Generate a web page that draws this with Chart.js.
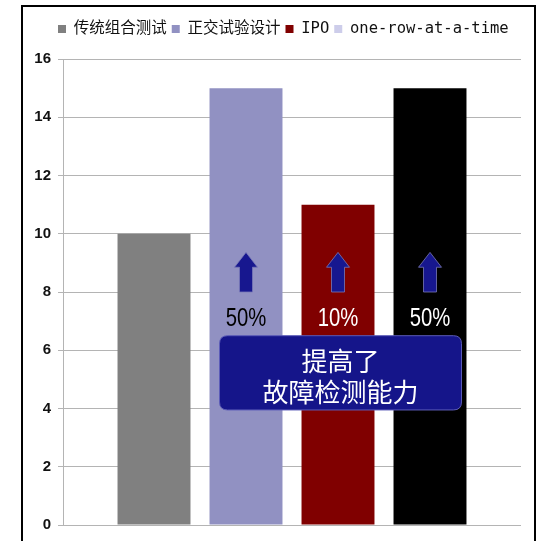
<!DOCTYPE html>
<html>
<head>
<meta charset="utf-8">
<script src="https://cdn.jsdelivr.net/npm/chart.js@4/dist/chart.umd.min.js"></script>
<style>
  html, body { margin: 0; padding: 0; background: #fff; overflow: hidden; }
  #wrap { position: relative; width: 543px; height: 541px; }
</style>
</head>
<body>
<div id="wrap"><canvas id="c" width="543" height="541"></canvas></div>
<script>
// Fault-detection comparison of four test-generation strategies
const seriesNames = ['传统组合测试', '正交试验设计', 'IPO', 'one-row-at-a-time'];
const faultsFound = [10, 15, 11, 15];
const yTickValues = [0, 2, 4, 6, 8, 10, 12, 14, 16];
const calloutLines = ['提高了', '故障检测能力'];

const barColors = ['#808080', '#9191c2', '#800000', '#000000'];
const legendColors = ['#808080', '#9191c2', '#800000', '#cdcdea'];
const gainTextColors = ['#000000', '#000000', '#ffffff', '#ffffff'];

// Percentage gain of each strategy over the baseline (first series)
const gainLabel = i => Math.round((faultsFound[i] - faultsFound[0]) / faultsFound[0] * 100) + '%';

const framePlugin = {
  id: 'frame',
  beforeDraw(chart) {
    const ctx = chart.ctx;
    ctx.save();
    ctx.strokeStyle = '#000';
    ctx.lineWidth = 2;
    ctx.strokeRect(22, 6, 513, 700);
    ctx.restore();
  }
};

// Extra room below the legend row, and the row's start nudged to x = 58
const legendTweakPlugin = {
  id: 'legendTweak',
  beforeUpdate(chart) {
    const lg = chart.legend;
    if (lg && !lg._tweaked) {
      const fit = lg.fit;
      lg.fit = function () { fit.call(this); this.height += 12.25; };
      const draw = lg.draw;
      lg.draw = function () {
        const hb = this.legendHitBoxes;
        const dx = hb && hb.length ? 58 - hb[0].left : 0;
        const ctx = this.ctx;
        ctx.save();
        ctx.translate(dx, 0);
        draw.call(this);
        ctx.restore();
      };
      lg._tweaked = true;
    }
  }
};

function roundRectPath(ctx, x, y, w, h, r) {
  ctx.beginPath();
  ctx.moveTo(x + r, y);
  ctx.lineTo(x + w - r, y);
  ctx.quadraticCurveTo(x + w, y, x + w, y + r);
  ctx.lineTo(x + w, y + h - r);
  ctx.quadraticCurveTo(x + w, y + h, x + w - r, y + h);
  ctx.lineTo(x + r, y + h);
  ctx.quadraticCurveTo(x, y + h, x, y + h - r);
  ctx.lineTo(x, y + r);
  ctx.quadraticCurveTo(x, y, x + r, y);
  ctx.closePath();
}

// Up arrows, gain percentages and the summary callout box
const calloutPlugin = {
  id: 'callout',
  afterDatasetsDraw(chart) {
    const ctx = chart.ctx;
    const ys = chart.scales.y;
    const bar = i => chart.getDatasetMeta(i).data[0].getProps(['x', 'width'], true);

    ctx.save();
    for (let i = 1; i < faultsFound.length; i++) {
      const b = bar(i);
      const cx = b.x;
      const tip = ys.getPixelForValue(9.36);
      const neck = ys.getPixelForValue(8.85);
      const base = ys.getPixelForValue(8.0);
      const headHalf = 11.5, shaftHalf = 6.5;
      ctx.beginPath();
      ctx.moveTo(cx, tip);
      ctx.lineTo(cx + headHalf, neck);
      ctx.lineTo(cx + shaftHalf, neck);
      ctx.lineTo(cx + shaftHalf, base);
      ctx.lineTo(cx - shaftHalf, base);
      ctx.lineTo(cx - shaftHalf, neck);
      ctx.lineTo(cx - headHalf, neck);
      ctx.closePath();
      ctx.fillStyle = '#17178f';
      ctx.fill();
      ctx.strokeStyle = '#7878b8';
      ctx.lineWidth = 0.8;
      ctx.stroke();

      // narrow-set percentage text
      ctx.save();
      ctx.translate(cx, ys.getPixelForValue(7.08));
      ctx.scale(0.78, 1);
      ctx.fillStyle = gainTextColors[i];
      ctx.font = '26px "Liberation Sans", Arial, sans-serif';
      ctx.textAlign = 'center';
      ctx.textBaseline = 'middle';
      ctx.fillText(gainLabel(i), 0, 0);
      ctx.restore();
    }

    const b1 = bar(1), b3 = bar(3);
    const left = b1.x - b1.width / 2 + 10;
    const right = b3.x + b3.width / 2 - 5;
    const top = ys.getPixelForValue(6.5);
    const bottom = ys.getPixelForValue(3.95);
    roundRectPath(ctx, left, top, right - left, bottom - top, 8);
    ctx.fillStyle = '#15158a';
    ctx.fill();
    ctx.strokeStyle = '#5c5cb8';
    ctx.lineWidth = 1;
    ctx.stroke();

    ctx.fillStyle = '#ffffff';
    ctx.font = '26px "Noto Sans CJK SC", sans-serif';
    ctx.textAlign = 'center';
    ctx.textBaseline = 'middle';
    const mid = (left + right) / 2;
    ctx.fillText(calloutLines[0], mid, ys.getPixelForValue(5.62));
    ctx.fillText(calloutLines[1], mid, ys.getPixelForValue(4.55));
    ctx.restore();
  }
};

const datasets = seriesNames.map((name, i) => ({
  label: name,
  data: [faultsFound[i]],
  backgroundColor: barColors[i],
  borderWidth: 0,
  categoryPercentage: 0.8035,
  barPercentage: 0.793
}));

new Chart(document.getElementById('c'), {
  type: 'bar',
  data: { labels: [''], datasets },
  plugins: [framePlugin, legendTweakPlugin, calloutPlugin],
  options: {
    responsive: false,
    animation: false,
    devicePixelRatio: 1,
    layout: { padding: { top: 16.25, left: 22, right: 22, bottom: 13 } },
    plugins: {
      tooltip: { enabled: false },
      legend: {
        position: 'top',
        labels: {
          boxWidth: 8,
          boxHeight: 8,
          padding: 5,
          color: '#111',
          font: { family: '"DejaVu Sans Mono", "Noto Sans CJK SC", monospace', size: 15.5 },
          generateLabels(chart) {
            const items = Chart.defaults.plugins.legend.labels.generateLabels(chart);
            items.forEach((it, i) => {
              it.fillStyle = legendColors[i];
              it.strokeStyle = legendColors[i];
              it.lineWidth = 0;
            });
            return items;
          }
        }
      }
    },
    scales: {
      x: { display: false },
      y: {
        min: yTickValues[0],
        max: yTickValues[yTickValues.length - 1],
        afterFit(scale) { scale.width = 41; },
        ticks: {
          stepSize: yTickValues[1] - yTickValues[0],
          padding: 7,
          color: '#111',
          font: { family: '"Liberation Sans", Arial, sans-serif', weight: 'bold', size: 15 }
        },
        grid: { color: '#b4b4b4', lineWidth: 1, tickLength: 5 },
        border: { color: '#b4b4b4', width: 1 }
      }
    }
  }
});
</script>
</body>
</html>
